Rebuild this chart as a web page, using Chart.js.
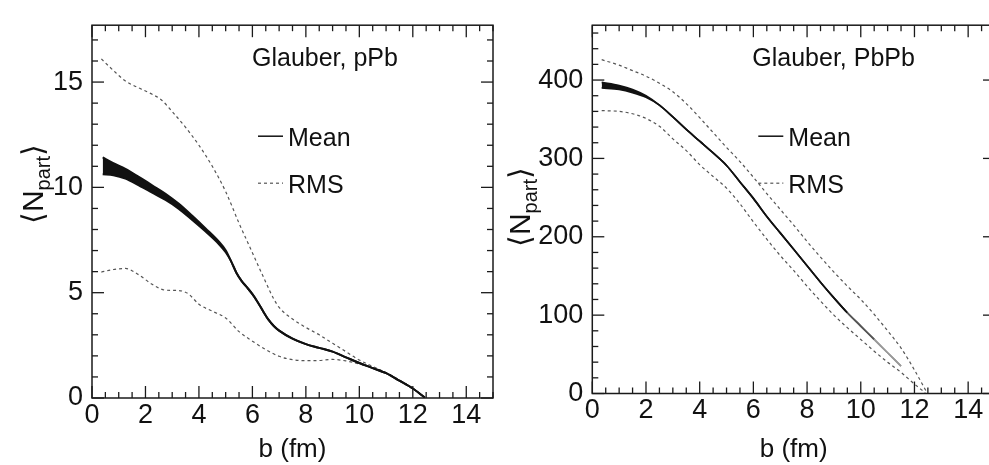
<!DOCTYPE html>
<html><head><meta charset="utf-8">
<script src="https://cdn.jsdelivr.net/npm/chart.js@4.4.0/dist/chart.umd.min.js"></script>
<style>
html,body{margin:0;padding:0;background:#fff;overflow:hidden;}
#wrap{position:relative;width:989px;height:465px;overflow:hidden;background:#fff;}
canvas{position:absolute;top:0;}
</style></head><body>
<div id="wrap">
<canvas id="c1" width="500" height="465" style="left:0px"></canvas>
<canvas id="c2" width="510" height="465" style="left:500px"></canvas>
</div>
<script>
// ---------- DATA ----------
// pPb panel
const pPbMeanB  = [0.4,0.8,1.25,1.75,2.25,2.75,3.25,3.75,4.25,4.75,5.0,5.2,5.4,5.6,5.8,6.0,6.2,6.4,6.6,6.8,7.0,7.5,8.0,8.5,9.0,9.5,10.0,10.5,11.0,11.5,12.0,12.45];
const pPbMeanHi = [11.42,11.15,10.88,10.5,10.1,9.7,9.22,8.65,8.05,7.42,7.02,6.5,5.95,5.55,5.25,4.93,4.55,4.12,3.72,3.42,3.2,2.82,2.56,2.38,2.2,1.93,1.66,1.42,1.18,0.82,0.45,0.02];
const pPbMeanLo = [10.62,10.58,10.42,10.1,9.75,9.4,8.98,8.45,7.9,7.3,6.92,6.5,5.95,5.55,5.25,4.93,4.55,4.12,3.72,3.42,3.2,2.82,2.56,2.38,2.2,1.93,1.66,1.42,1.18,0.82,0.45,0.02];
const pPbRmsHiB = [0.35,0.8,1.25,1.75,2.25,2.6,3.0,3.5,4.0,4.5,5.0,5.5,6.0,6.5,6.8,7.0,7.5,8.0,8.5,9.0,9.5,10.0,10.5,11.0,11.5,12.0,12.45];
const pPbRmsHi  = [16.1,15.55,15.05,14.72,14.42,14.15,13.6,12.85,12.0,11.0,9.8,8.3,6.9,5.5,4.7,4.3,3.75,3.35,3.0,2.6,2.2,1.8,1.5,1.2,0.85,0.45,0.02];
const pPbRmsLoB = [0.35,0.8,1.25,1.75,2.25,2.75,3.25,3.6,4.0,4.5,5.0,5.5,6.0,6.5,7.0,7.5,8.0,8.5,9.0,9.5,10.0,10.5,11.0,11.5,12.0,12.45];
const pPbRmsLo  = [5.98,6.1,6.15,5.85,5.4,5.12,5.1,4.95,4.45,4.12,3.8,3.15,2.7,2.3,1.98,1.82,1.77,1.78,1.83,1.76,1.62,1.45,1.2,0.85,0.45,0.02];

// PbPb panel
const PbPbMeanB  = [0.35,1.0,1.5,2.0,2.5,3.0,3.5,4.0,4.5,5.0,5.5,6.0,6.5,7.0,7.5,8.0,8.5,9.0,9.5,10.0,10.5,11.0,11.5];
const PbPbMeanHi = [397,393,388,380,368,353,337,322,307,291,270,249,226,205,184,163,142,122,103,86,69,52,35];
const PbPbMeanLo = [390,388,384,378,368,353,337,322,307,291,270,249,226,205,184,163,142,122,103,86,69,52,35];
const PbPbRmsHiB = [0.35,1.0,1.5,2.0,2.5,3.0,3.5,4.0,4.5,5.0,5.5,6.0,6.5,7.0,7.5,8.0,8.5,9.0,9.5,10.0,10.5,11.0,11.5,12.0,12.45];
const PbPbRmsHi  = [426,419,412,405,396,385,370,352,333,314,296,276,255,235,215,194,174,155,137,120,101,80,58,30,2];
const PbPbRmsLoB = [0.35,1.0,1.5,2.0,2.5,3.0,3.5,4.0,4.5,5.0,5.5,6.0,6.5,7.0,7.5,8.0,8.5,9.0,9.5,10.0,10.5,11.0,11.5,12.0,12.4];
const PbPbRmsLo  = [361,360,357,351,341,325,310,292,277,262,242,219,197,176,157,137,118,100,84,69,54,40,27,12,1];

// axes
const bMin = 0, bMax = 15, bStep = 2;
const pPbYMax = 17.7, pPbYStep = 5;
const PbPbYMax = 470, PbPbYStep = 100;

// texts
const pPbLabel = 'Glauber, pPb';
const PbPbLabel = 'Glauber, PbPb';
const legendMean = 'Mean';
const legendRms = 'RMS';
const xTitle = 'b (fm)';

// ---------- HELPERS ----------
const FONT = '"Liberation Sans", Arial, Helvetica, sans-serif';
const pts = (xs, ys) => xs.map((x, i) => ({x, y: ys[i]}));

const framePlugin = {
  id: 'frame',
  afterDatasetsDraw(chart, args, o) {
    const {ctx, chartArea: a, scales: {x, y}} = chart;
    ctx.save();
    ctx.strokeStyle = '#1a1a1a';
    ctx.lineWidth = 1.5;
    ctx.strokeRect(a.left, a.top, a.right - a.left, a.bottom - a.top);
    ctx.lineWidth = 1.3;
    const seg = (x1, y1, x2, y2) => { ctx.beginPath(); ctx.moveTo(x1, y1); ctx.lineTo(x2, y2); ctx.stroke(); };
    const isMajor = (v, m) => Math.abs(v / m - Math.round(v / m)) < 1e-6;
    const nx = Math.round((x.max - x.min) / o.xMinor);
    for (let i = 0; i <= nx; i++) {
      const v = x.min + i * o.xMinor;
      const px = x.getPixelForValue(v);
      const L = isMajor(v, o.xMajor) ? 12 : 6;
      seg(px, a.bottom, px, a.bottom - L);
      seg(px, a.top, px, a.top + L);
    }
    const ny = Math.floor((y.max - y.min) / o.yMinor + 1e-6);
    for (let i = 0; i <= ny; i++) {
      const v = y.min + i * o.yMinor;
      const py = y.getPixelForValue(v);
      const L = isMajor(v, o.yMajor) ? 12 : 6;
      seg(a.left, py, a.left + L, py);
      seg(a.right, py, a.right - L, py);
    }
    // annotation text
    ctx.fillStyle = '#111';
    ctx.textBaseline = 'alphabetic';
    ctx.textAlign = 'left';
    ctx.font = '25px ' + FONT;
    ctx.fillText(o.label, a.left + 160, a.top + 41);
    // legend
    ctx.strokeStyle = '#111';
    ctx.lineWidth = 1.5;
    seg(a.left + 166, a.top + 111, a.left + 191, a.top + 111);
    ctx.strokeStyle = '#555';
    ctx.lineWidth = 1.2;
    ctx.setLineDash([3, 3]);
    seg(a.left + 166, a.top + 158, a.left + 191, a.top + 158);
    ctx.setLineDash([]);
    ctx.fillText(legendMean, a.left + 196, a.top + 121);
    ctx.fillText(legendRms, a.left + 196, a.top + 168);
    // x title
    ctx.font = '26px ' + FONT;
    ctx.textAlign = 'center';
    ctx.textBaseline = 'alphabetic';
    ctx.fillText(xTitle, (a.left + a.right) / 2, 457);
    // y title  <N_part>
    ctx.save();
    ctx.translate(o.yTitleX, o.yTitleY);
    ctx.rotate(-Math.PI / 2);
    const big = '30px ' + FONT, small = '20px ' + FONT;
    ctx.font = big;
    const wL = ctx.measureText('\u27E8').width;
    const wN = ctx.measureText('N').width;
    const wR = ctx.measureText('\u27E9').width;
    ctx.font = small;
    const wS = ctx.measureText('part').width;
    let cx = -(wL + wN + wS + wR) / 2;
    ctx.textAlign = 'left';
    ctx.font = big;
    ctx.fillText('\u27E8', cx, 0); cx += wL;
    ctx.fillText('N', cx, 0); cx += wN;
    ctx.font = small;
    ctx.fillText('part', cx, 7); cx += wS;
    ctx.font = big;
    ctx.fillText('\u27E9', cx, 0);
    ctx.restore();
    ctx.restore();
  }
};

function makeChart(id, d) {
  const meanColor = d.meanSegColor;
  return new Chart(document.getElementById(id), {
    type: 'line',
    data: {
      datasets: [
        { data: pts(d.meanB, d.meanHi), borderColor: '#111', borderWidth: d.meanW, fill: false,
          segment: meanColor ? { borderColor: meanColor } : undefined },
        { data: pts(d.meanB, d.meanLo), borderColor: '#111', borderWidth: d.meanW, fill: '-1', backgroundColor: '#111',
          segment: meanColor ? { borderColor: meanColor } : undefined },
        { data: pts(d.rmsHiB, d.rmsHi), borderColor: '#555', borderWidth: 1.2, borderDash: [3, 3], fill: false },
        { data: pts(d.rmsLoB, d.rmsLo), borderColor: '#555', borderWidth: 1.2, borderDash: [3, 3], fill: false }
      ]
    },
    options: {
      responsive: false,
      animation: false,
      devicePixelRatio: 1,
      layout: { padding: d.padding },
      elements: { point: { radius: 0 }, line: { cubicInterpolationMode: 'monotone' } },
      plugins: { legend: { display: false }, tooltip: { enabled: false },
        frame: d.frame },
      scales: {
        x: {
          type: 'linear', min: bMin, max: bMax,
          grid: { display: false, drawTicks: false }, border: { display: false },
          ticks: { stepSize: bStep, includeBounds: false, padding: 1, color: '#111', font: { family: FONT, size: 27 } },
          afterFit: s => { s.height = d.xHeight; }
        },
        y: {
          type: 'linear', min: 0, max: d.yMax,
          grid: { display: false, drawTicks: false }, border: { display: false },
          ticks: { stepSize: d.yStep, includeBounds: false, padding: 9, color: '#111', font: { family: FONT, size: 27 } },
          afterFit: s => { s.width = d.yWidth; }
        }
      }
    },
    plugins: [framePlugin]
  });
}

makeChart('c1', {
  meanB: pPbMeanB, meanHi: pPbMeanHi, meanLo: pPbMeanLo,
  rmsHiB: pPbRmsHiB, rmsHi: pPbRmsHi, rmsLoB: pPbRmsLoB, rmsLo: pPbRmsLo,
  meanW: 2, yMax: pPbYMax, yStep: pPbYStep,
  padding: { top: 5, right: 7, left: 0, bottom: 0 }, xHeight: 67, yWidth: 92,
  frame: { xMinor: 0.5, xMajor: 2, yMinor: 1, yMajor: 5, label: pPbLabel, yTitleX: 43, yTitleY: 184 }
});

makeChart('c2', {
  meanB: PbPbMeanB, meanHi: PbPbMeanHi, meanLo: PbPbMeanLo,
  rmsHiB: PbPbRmsHiB, rmsHi: PbPbRmsHi, rmsLoB: PbPbRmsLoB, rmsLo: PbPbRmsLo,
  meanW: 1.7, yMax: PbPbYMax, yStep: PbPbYStep,
  meanSegColor: ctx => ctx.p0.parsed.x >= 10.5 ? '#999' : (ctx.p0.parsed.x >= 9.5 ? '#555' : '#111'),
  padding: { top: 3, right: 15, left: 0, bottom: 0 }, xHeight: 71.5, yWidth: 92.3,
  frame: { xMinor: 0.5, xMajor: 2, yMinor: 20, yMajor: 100, label: PbPbLabel, yTitleX: 30, yTitleY: 207 }
});
</script>
</body></html>
